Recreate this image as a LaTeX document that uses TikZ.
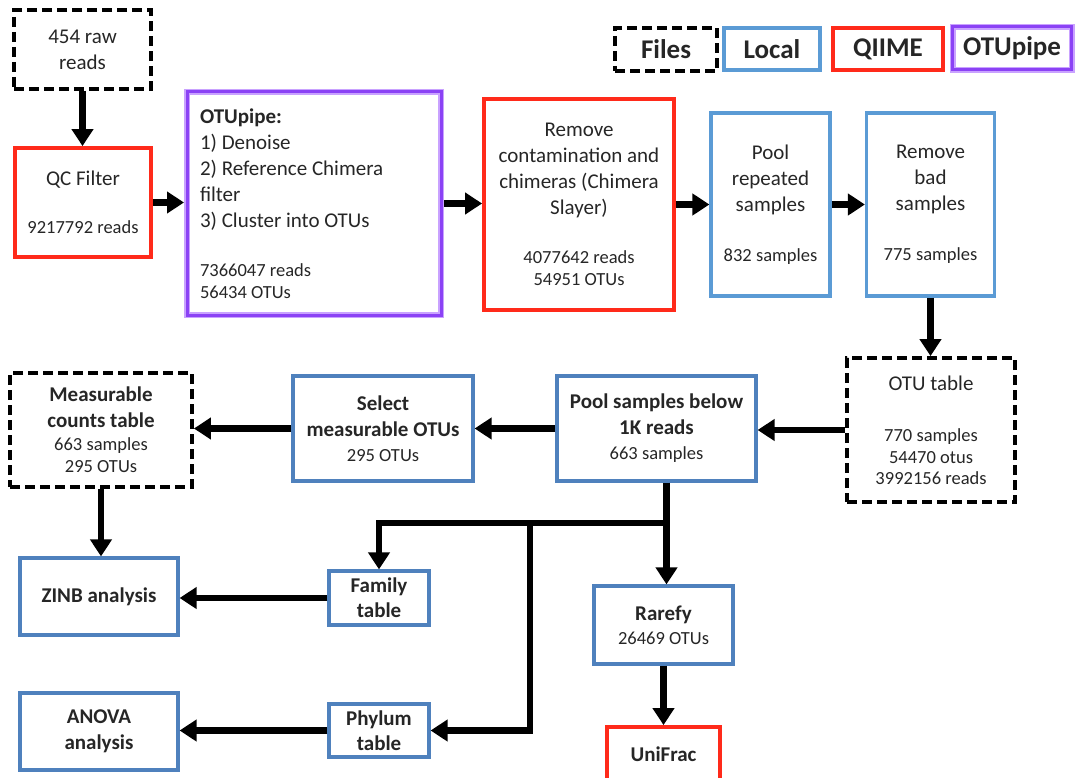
\documentclass[tikz,border=0pt]{standalone}
\usepackage{fontspec}
\setmainfont{Carlito}
\usetikzlibrary{arrows.meta}
\definecolor{blueA}{HTML}{5B9BD5}
\definecolor{blueB}{HTML}{4F81BD}
\definecolor{redA}{HTML}{FF2A1A}
\definecolor{purpL}{HTML}{C9A2FF}
\definecolor{purpD}{HTML}{8B42F5}
\definecolor{txt}{HTML}{262626}
\newcommand\bigf{\fontsize{21}{26}\selectfont}
\newcommand\smallf{\fontsize{18.5}{22}\selectfont}
\newcommand\legf{\fontsize{27}{32}\selectfont\bfseries}
\tikzset{
 box/.style={draw, line width=3.2pt, inner sep=0pt, align=center, font=\bigf, text=txt},
 filebox/.style={box, draw=black, line width=3.8pt, dash pattern=on 10pt off 5pt},
 localbox/.style={box, draw=blueA},
 localboxB/.style={box, draw=blueB},
 qiimebox/.style={box, draw=redA, line width=3.8pt},
 otubox/.style={box, draw=purpL, line width=6pt, postaction={draw=purpD, line width=3pt}},
 sz/.style 2 args={minimum width=#1pt, minimum height=#2pt},
 arr/.style={line width=6.5pt, -{Triangle[width=21pt,length=17pt]}},
}
\begin{document}
\begin{tikzpicture}[x=1pt,y=-1pt]
\useasboundingbox (0,0) rectangle (1075,778);
\clip (0,0) rectangle (1075,778);
% legend
\node[filebox, sz={102}{43}, font=\legf] (lfiles) at (666,49.5) {Files};
\node[localbox, sz={96}{42}, font=\legf] (llocal) at (772,49) {Local};
\node[qiimebox, sz={110}{42}, font=\legf] (lqiime) at (888,49) {QIIME};
\node[otubox, sz={119}{43}, font=\legf] (lotu) at (1012,48.5) {OTUpipe};
% top row
\node[filebox, sz={137}{79}] (raw) at (82.5,49.5) {454 raw\\reads};
\node[qiimebox, sz={136}{109}] (qc) at (83,202.5) {QC Filter\\[22pt]{\smallf 9217792 reads}};
\node[otubox, sz={254}{223}, text width=228pt, inner xsep=13pt, align=left] (otu) at (314,203.5)
 {\spaceskip=0pt\xspaceskip=0pt\relax\textbf{OTUpipe:}\\1) Denoise\\2) Reference Chimera\\filter\\3) Cluster into OTUs\\[23pt]{\smallf 7366047 reads}\\[-4pt]{\smallf 56434 OTUs}};
\node[qiimebox, sz={190}{211}] (rem) at (579,204.5) {Remove\\contamination and\\chimeras (Chimera\\Slayer)\\[23pt]{\smallf 4077642 reads}\\[-4pt]{\smallf 54951 OTUs}};
\node[localbox, sz={119}{183}] (pool) at (770.5,204.5) {Pool\\repeated\\samples\\[24pt]{\smallf 832 samples}};
\node[localbox, sz={128}{183}] (bad) at (930.5,204.5) {Remove\\bad\\samples\\[24pt]{\smallf 775 samples}};
% middle row
\node[filebox, sz={168}{144}] (otutab) at (931,430) {OTU table\\[25pt]{\smallf 770 samples}\\[-4pt]{\smallf 54470 otus}\\[-5pt]{\smallf 3992156 reads}};
\node[localboxB, sz={199}{105}] (poolb) at (656.5,428.5) {\textbf{Pool samples below}\\\textbf{1K reads}\\[-1pt]{\smallf 663 samples}};
\node[localboxB, sz={180}{105}] (sel) at (383,428.5) {\textbf{Select}\\\textbf{measurable OTUs}\\[-1pt]{\smallf 295 OTUs}};
\node[filebox, sz={182}{114}] (meas) at (101,430) {\textbf{Measurable}\\\textbf{counts table}\\[-3pt]{\smallf 663 samples}\\[-4pt]{\smallf 295 OTUs}};
% bottom
\node[localboxB, sz={158}{77}] (zinb) at (99,596.5) {\textbf{ZINB analysis}};
\node[localboxB, sz={100}{54}] (fam) at (379,598) {\textbf{Family}\\[-1pt]\textbf{table}};
\node[localboxB, sz={158}{77}] (anova) at (99,731.5) {\textbf{ANOVA}\\\textbf{analysis}};
\node[localboxB, sz={100}{53}] (phy) at (379,730.5) {\textbf{Phylum}\\[-1pt]\textbf{table}};
\node[localboxB, sz={139}{78}] (rar) at (663.5,625) {\textbf{Rarefy}\\[-2pt]{\smallf 26469 OTUs}};
\node[qiimebox, sz={113}{54}] (uni) at (663.5,754) {\textbf{UniFrac}};
% connectors
\draw[arr] (raw.south) -- (raw.south |- qc.north);
\draw[arr] (qc.east) -- (qc.east -| otu.west);
\draw[arr] (otu.east) -- (otu.east -| rem.west);
\draw[arr] (rem.east) -- (rem.east -| pool.west);
\draw[arr] (pool.east) -- (pool.east -| bad.west);
\draw[arr] (bad.south) -- (bad.south |- otutab.north);
\draw[arr] (otutab.west) -- (otutab.west -| poolb.east);
\draw[arr] (poolb.west) -- (poolb.west -| sel.east);
\draw[arr] (sel.west) -- (sel.west -| meas.east);
\draw[arr] (meas.south) -- (meas.south |- zinb.north);
\draw[arr] (fam.west) -- (fam.west -| zinb.east);
\draw[arr] (phy.west) -- (phy.west -| anova.east);
\coordinate (tap) at ([xshift=10pt]poolb.south);
\coordinate (j1) at (tap |- 0,523);
\coordinate (j2) at (530,523);
\draw[arr] (tap) -- (tap |- rar.north);
\draw[arr] (j1) -| (fam.north);
\draw[arr] (j2) |- (phy.east);
\draw[arr] (rar.south) -- (rar.south |- uni.north);
\end{tikzpicture}
\end{document}
